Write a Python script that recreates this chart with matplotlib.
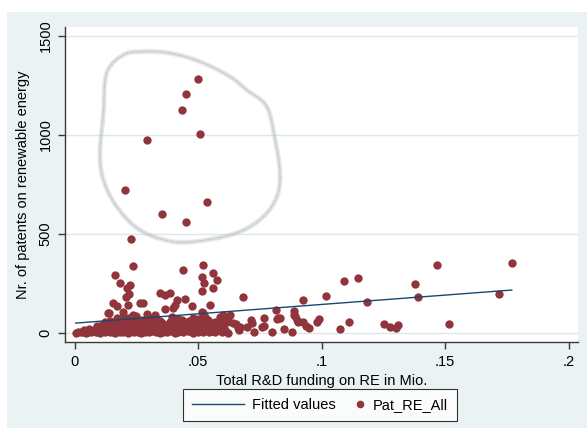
import numpy as np
import matplotlib.pyplot as plt
from matplotlib.patches import Rectangle
from matplotlib.lines import Line2D
from matplotlib.legend_handler import HandlerLine2D

plt.rcParams['font.family'] = ['Liberation Sans', 'DejaVu Sans']

# R&D funding (Mio.) and patent counts per observation
funding = [
    # large outliers
    0.0499, 0.0450, 0.0437, 0.0509, 0.0292, 0.0203, 0.0535, 0.0353, 0.0451, 0.0227,
    # middle range
    0.0238, 0.0164, 0.0184, 0.0225, 0.0211, 0.0221, 0.0207, 0.0157, 0.0171, 0.0265,
    0.0279, 0.0215, 0.0137, 0.0198, 0.0238, 0.0292, 0.0140,
    0.0522, 0.0438, 0.0562, 0.0515, 0.0576, 0.0524, 0.0562, 0.0515, 0.0346, 0.0366,
    0.0387, 0.0447, 0.0416, 0.0407, 0.0400, 0.0474, 0.0549, 0.0366, 0.0515, 0.0521,
    0.0326, 0.0623, 0.0589,
    0.0682, 0.0816, 0.0887, 0.0890, 0.0926, 0.1017, 0.1091, 0.1148, 0.1185, 0.1379,
    0.1391, 0.1466, 0.1720, 0.1770, 0.0603, 0.0630,
    # low values, right side
    0.0821, 0.0766, 0.0715, 0.0720, 0.0653, 0.0660, 0.0665, 0.0697, 0.0727, 0.0758,
    0.0768, 0.0801, 0.0849, 0.0879, 0.0832, 0.0893, 0.0925, 0.0906, 0.0948, 0.0938,
    0.0991, 0.0983, 0.1111, 0.1075, 0.1253, 0.1275, 0.1302, 0.1311, 0.1515, 0.0609,
    0.0670, 0.0900, 0.0616, 0.0640, 0.0825,
    # dense cluster near zero
    0.0005, 0.0015, 0.0025, 0.0035, 0.0045, 0.0055, 0.0065, 0.0075, 0.0085, 0.0095,
    0.0105, 0.0115, 0.0125, 0.0135, 0.0145, 0.0155, 0.0165, 0.0175, 0.0185, 0.0195,
    0.0205, 0.0215, 0.0225, 0.0240, 0.0255, 0.0270, 0.0285, 0.0300, 0.0315, 0.0330,
    0.0345, 0.0360, 0.0375, 0.0390, 0.0405, 0.0420, 0.0440, 0.0460, 0.0480, 0.0500,
    0.0520, 0.0545, 0.0570, 0.0595, 0.0620,
    0.0100, 0.0190, 0.0280, 0.0370, 0.0465, 0.0555,
    0.0040, 0.0060, 0.0080, 0.0100, 0.0120, 0.0140, 0.0160, 0.0180, 0.0200, 0.0220,
    0.0245, 0.0265, 0.0290, 0.0310, 0.0335, 0.0355, 0.0380, 0.0410, 0.0430, 0.0455,
    0.0475, 0.0505, 0.0530, 0.0560, 0.0585, 0.0610,
    0.0110, 0.0155, 0.0200, 0.0240, 0.0280, 0.0320, 0.0365, 0.0400, 0.0445, 0.0490,
    0.0535, 0.0575, 0.0600,
    0.0090, 0.0110, 0.0130, 0.0150, 0.0170, 0.0190, 0.0210, 0.0230, 0.0250, 0.0275,
    0.0300, 0.0325, 0.0350, 0.0370, 0.0395, 0.0425, 0.0450, 0.0470, 0.0495, 0.0525,
    0.0550, 0.0580,
    0.0140, 0.0180, 0.0220, 0.0265, 0.0310, 0.0355, 0.0405, 0.0455, 0.0500, 0.0560,
    0.0125, 0.0145, 0.0165, 0.0185, 0.0205, 0.0230, 0.0260, 0.0285, 0.0315, 0.0345,
    0.0385, 0.0435, 0.0465, 0.0510, 0.0540, 0.0570,
    0.0180, 0.0240, 0.0275, 0.0330, 0.0420, 0.0500, 0.0590,
    0.0170, 0.0195, 0.0215, 0.0250, 0.0305, 0.0395, 0.0480, 0.0530,
]
patents = [
    1281, 1209, 1125, 1003, 975, 721, 663, 601, 559, 476,
    338, 293, 254, 242, 226, 197, 183, 150, 136, 153,
    150, 141, 99, 108, 91, 96, 101,
    343, 318, 301, 284, 268, 254, 226, 214, 200, 192,
    204, 170, 167, 141, 128, 136, 141, 120, 108, 99,
    91, 82, 82,
    180, 118, 111, 91, 165, 187, 263, 278, 157, 249,
    182, 345, 198, 352, 91, 91,
    72, 77, 67, 49, 45, 25, 15, 29, 7, 29,
    35, 7, 19, 7, 74, 84, 57, 57, 24, 35,
    69, 57, 56, 20, 47, 32, 27, 42, 47, 57,
    32, 66, 57, 49, 74,
    2, 5, 3, 6, 2, 8, 4, 10, 3, 7,
    2, 9, 4, 12, 3, 8, 2, 11, 5, 3,
    9, 2, 6, 3, 8, 2, 5, 3, 9, 4,
    2, 7, 3, 10, 2, 6, 3, 9, 2, 5,
    3, 8, 4, 6, 2,
    12, 14, 12, 14, 13, 12,
    15, 20, 18, 24, 19, 26, 21, 28, 22, 27,
    20, 25, 18, 24, 21, 27, 19, 25, 20, 28,
    22, 26, 19, 24, 21, 16,
    30, 31, 33, 30, 32, 33, 30, 31, 33, 30,
    32, 30, 34,
    35, 40, 37, 44, 39, 46, 41, 48, 38, 45,
    40, 47, 36, 43, 38, 45, 40, 48, 42, 37,
    45, 40,
    50, 52, 50, 53, 50, 52, 50, 52, 50, 51,
    55, 60, 57, 64, 59, 66, 58, 63, 56, 62,
    57, 64, 60, 58, 65, 56,
    70, 72, 68, 71, 70, 72, 66,
    78, 82, 76, 84, 75, 80, 76, 82,
]

# linear fit: patents = intercept + slope * funding
fit_intercept = 50.0
fit_slope = 945.0

# freehand loop around the outliers (data coordinates)
loop_x = [0.0279, 0.0387, 0.0508, 0.0630, 0.0697, 0.0778, 0.0812, 0.0832, 0.0819, 0.0764,
          0.0670, 0.0535, 0.0400, 0.0265, 0.0171, 0.0117, 0.0103, 0.0117, 0.0130, 0.0198]
loop_y = [1421, 1413, 1370, 1294, 1227, 1143, 975, 808, 688, 587,
          512, 470, 461, 520, 638, 773, 908, 1110, 1312, 1404]

funding = np.array(funding)
patents = np.array(patents)

navy = '#1a476f'
maroon = '#90353b'
bg = '#eaf2f3'
fs = 10.5


class RightMarker(HandlerLine2D):
    # put the single legend marker at the right end of its handle box
    def get_xdata(self, legend, xdescent, ydescent, width, height, fontsize):
        x = -xdescent + width - 0.4 * fontsize
        return [x], [x]


fig = plt.figure(figsize=(5.87, 4.29), dpi=100)
fig.patches.append(Rectangle((7 / 587, 1 / 429), 580 / 587, 416 / 429,
                             transform=fig.transFigure, facecolor=bg,
                             edgecolor='none', zorder=-10))

ax = fig.add_axes([65 / 587, 1 - 342 / 429, 513 / 587, 315 / 429])
ax.set_facecolor('white')
ax.set_xlim(-0.00385, 0.2038)
ax.set_ylim(-45, 1545)

for s in ['top', 'right']:
    ax.spines[s].set_visible(False)
for s in ['left', 'bottom']:
    ax.spines[s].set_color('#3a3a3a')
    ax.spines[s].set_linewidth(1.0)

ax.set_yticks([0, 500, 1000, 1500])
ax.set_yticklabels(['0', '500', '1000', '1500'], rotation=90, va='center')
ax.set_xticks([0, 0.05, 0.1, 0.15, 0.2])
ax.set_xticklabels(['0', '.05', '.1', '.15', '.2'])
ax.tick_params(axis='both', direction='out', length=5, width=1, color='#3a3a3a',
               labelsize=fs, labelcolor='black', pad=4)
ax.grid(axis='y', color='#dde8ea', linewidth=1)
ax.set_axisbelow(True)

# closed Catmull-Rom curve through the loop points
lx = np.array(loop_x)
ly = np.array(loop_y, dtype=float)
n = len(lx)
cx, cy = [], []
t = np.linspace(0, 1, 20, endpoint=False)
for i in range(n):
    p0, p1, p2, p3 = [(lx[(i + k) % n], ly[(i + k) % n]) for k in (-1, 0, 1, 2)]
    for tt in t:
        for arr, c in ((cx, 0), (cy, 1)):
            arr.append(0.5 * (2 * p1[c] + (-p0[c] + p2[c]) * tt
                              + (2 * p0[c] - 5 * p1[c] + 4 * p2[c] - p3[c]) * tt ** 2
                              + (-p0[c] + 3 * p1[c] - 3 * p2[c] + p3[c]) * tt ** 3))
cx.append(cx[0])
cy.append(cy[0])
ax.plot(cx, cy, color='#bcc4c6', lw=3.5, alpha=0.4, zorder=2, solid_capstyle='round')
ax.plot(cx, cy, color='#9ea7a9', lw=1.1, alpha=0.55, ls=(0, (1, 0.6)), zorder=2)

xs = np.array([funding.min(), funding.max()])
line, = ax.plot(xs, fit_intercept + fit_slope * xs, color=navy, lw=1.0, zorder=4,
                label='Fitted values')
ax.scatter(funding, patents, s=36, color=maroon, linewidths=0, zorder=3)

ax.set_xlabel('Total R&D funding on RE in Mio.', fontsize=fs, labelpad=4)
ax.set_ylabel('Nr. of patents on renewable energy', fontsize=fs, labelpad=6)

dot = Line2D([], [], marker='o', ls='none', color=maroon, markersize=5.5,
             markeredgewidth=0, label='Pat_RE_All')
leg = fig.legend(handles=[line, dot], loc='center', bbox_to_anchor=(320 / 587, 1 - 405 / 429),
                 ncol=2, fontsize=fs, frameon=True, fancybox=False, edgecolor='black',
                 handlelength=3.6, handletextpad=0.5, columnspacing=-1.5, borderpad=0.6,
                 borderaxespad=0.3, handler_map={dot: RightMarker(numpoints=1)})
leg.get_frame().set_linewidth(0.8)

fig.savefig('out.png', dpi=100, facecolor='white')
